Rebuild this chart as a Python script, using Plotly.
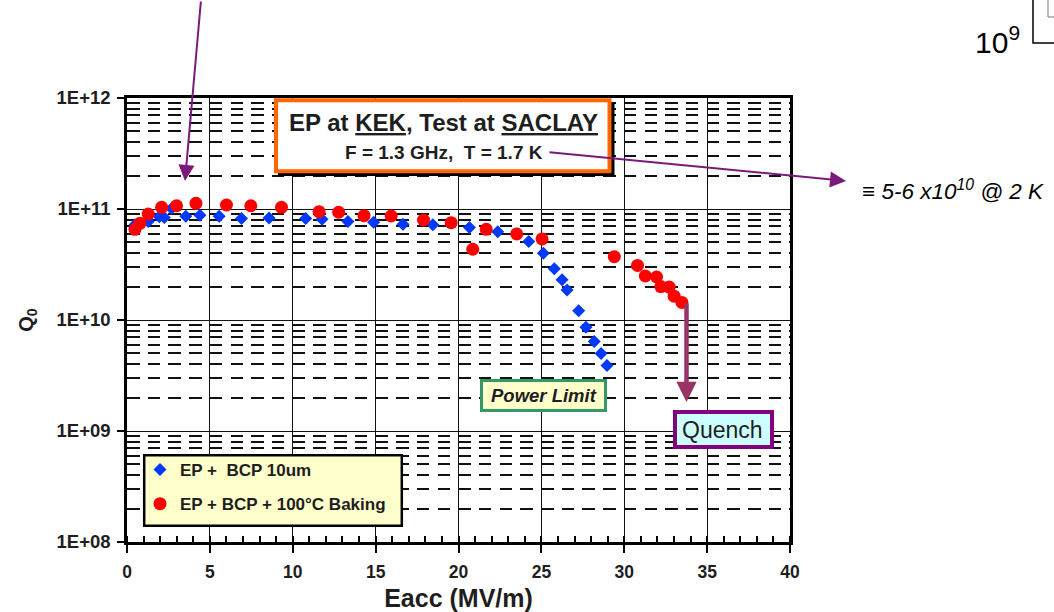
import plotly.graph_objects as go

# ---------------- data ----------------
blue_name = "EP +  BCP 10um"
blue_x = [0.48, 1.28, 1.95, 2.25, 2.69, 3.55, 4.40, 5.56, 6.91, 8.57, 10.78, 11.77, 13.33,
          14.88, 16.65, 18.45, 20.66, 22.37, 24.24, 25.12, 25.78, 26.25, 26.55, 27.25,
          27.69, 28.19, 28.60, 28.96]
blue_q = [7.2e10, 7.7e10, 8.5e10, 8.4e10, 1.01e11, 8.6e10, 8.8e10, 8.6e10, 8.2e10, 8.3e10,
          8.2e10, 8.1e10, 7.7e10, 7.6e10, 7.3e10, 7.2e10, 6.8e10, 6.25e10, 5.1e10, 4.0e10,
          2.9e10, 2.3e10, 1.86e10, 1.21e10, 8.6e9, 6.4e9, 5.0e9, 3.9e9]

red_name = "EP + BCP + 100°C Baking"
red_x = [0.48, 0.78, 1.28, 2.09, 2.99, 4.16, 6.00, 7.47, 9.32, 11.59, 12.77, 14.30, 15.94,
         17.89, 19.56, 20.86, 21.67, 23.51, 25.04, 29.40, 30.80, 31.27, 31.95, 32.21,
         32.71, 33.01, 33.48]
red_q = [6.56e10, 7.43e10, 9.0e10, 1.035e11, 1.07e11, 1.125e11, 1.087e11, 1.07e11, 1.035e11,
         9.46e10, 9.35e10, 8.7e10, 8.65e10, 7.96e10, 7.53e10, 4.34e10, 6.56e10, 5.96e10,
         5.37e10, 3.72e10, 3.1e10, 2.49e10, 2.44e10, 2.0e10, 1.98e10, 1.64e10, 1.44e10]

y_tickvals = [1e8, 1e9, 1e10, 1e11, 1e12]
y_ticktext = ["1E+08", "1E+09", "1E+10", "1E+11", "1E+12"]
x_tickvals = [0, 5, 10, 15, 20, 25, 30, 35, 40]

# ---------------- layout helpers ----------------
FIG_W, FIG_H = 1054, 612
L, T, R, B = 127, 98, 790, 542
PW, PH = R - L, B - T
FONT = "Liberation Sans, Arial, sans-serif"
TXT = "#1e1e1e"


def px(x):
    return (x - L) / PW


def py(y):
    return 1 - (y - T) / PH


def rect(x0, y0, x1, y1, fill, line_color=None, line_w=0):
    return dict(type="rect", xref="paper", yref="paper", layer="above",
                x0=px(x0), x1=px(x1), y0=py(y0), y1=py(y1),
                fillcolor=fill,
                line=dict(color=line_color or fill, width=line_w))


def path(points, color, width):
    d = "M " + " L ".join(f"{px(a):.5f},{py(b):.5f}" for a, b in points)
    return dict(type="path", xref="paper", yref="paper", layer="above", path=d,
                line=dict(color=color, width=width))


minor_y = [m * 10 ** e for e in range(8, 12) for m in range(2, 10)]

fig = go.Figure()
fig.add_trace(go.Scatter(x=blue_x, y=blue_q, mode="markers", name=blue_name,
                         legendgroup="a",
                         marker=dict(symbol="diamond", size=10, color="#0038FF")))
fig.add_trace(go.Scatter(x=red_x, y=red_q, mode="markers", name=red_name,
                         legendgroup="b",
                         marker=dict(symbol="circle", size=13, color="#FF0000")))

shapes = [
    # title box with shadow
    rect(278, 103, 614.5, 176, "black"),
    rect(276, 100.3, 609.5, 171.2, "white", "#FF6600", 4),
    # power limit
    rect(481.5, 380.5, 605.5, 410.5, "#FFFFCC", "#339966", 3),
    # quench
    rect(675, 412, 772, 447, "#CCFFFF", "#800080", 4),
    # legend box
    rect(144.2, 455.2, 401.8, 525.8, "#FFFFCC", "black", 2.5),
    # top-right axis fragment
    path([(1033, -2), (1033, 43), (1056, 43)], "black", 1.5),
    path([(1048, -2), (1048, 17), (1056, 17)], "#777777", 1),
]

annotations = [
    dict(text="EP at <u>KEK</u>, Test at <u>SACLAY</u>", x=px(443), y=py(122),
         font=dict(family=FONT, size=24, color=TXT, weight="bold")),
    dict(text="F = 1.3 GHz,  T = 1.7 K", x=px(444), y=py(152),
         font=dict(family=FONT, size=19, color=TXT, weight="bold")),
    dict(text="<i>Power Limit</i>", x=px(543.5), y=py(395.5),
         font=dict(family=FONT, size=18.5, color=TXT, weight="bold")),
    dict(text="Quench", x=px(722), y=py(429.5),
         font=dict(family=FONT, size=23, color=TXT)),
    dict(text="<i>≡ 5-6 x10<sup>10</sup> @ 2 K</i>", x=px(860), y=py(190), xanchor="left",
         font=dict(family=FONT, size=22.5, color="black")),
    dict(text="10<sup>9</sup>", x=px(1022), y=py(40), xanchor="right",
         font=dict(family=FONT, size=30, color="black")),
    # arrows
    dict(text="", x=px(185), y=py(181), ax=16, ay=-183, showarrow=True,
         arrowcolor="#7B1A7B", arrowwidth=2, arrowhead=2, arrowsize=1.6, standoff=0),
    dict(text="", x=px(846), y=py(181), ax=-298, ay=-29, showarrow=True,
         arrowcolor="#7B1A7B", arrowwidth=2, arrowhead=2, arrowsize=1.6, standoff=0),
    dict(text="", x=px(686.5), y=py(402), ax=0, ay=-100, showarrow=True,
         arrowcolor="#993366", arrowwidth=4.5, arrowhead=2, arrowsize=0.9, standoff=0),
]
for a in annotations:
    a.setdefault("xref", "paper")
    a.setdefault("yref", "paper")
    a.setdefault("showarrow", False)
    a.setdefault("xanchor", "center")
    a.setdefault("yanchor", "middle")

fig.update_layout(
    template="none",
    width=FIG_W, height=FIG_H,
    margin=dict(l=L, r=FIG_W - R, t=T, b=FIG_H - B, pad=0),
    paper_bgcolor="white", plot_bgcolor="white",
    shapes=shapes, annotations=annotations,
    showlegend=True,
    legend=dict(x=px(140), y=py(452), xanchor="left", yanchor="top",
                bgcolor="rgba(0,0,0,0)", borderwidth=0,
                traceorder="grouped", tracegroupgap=9,
                font=dict(family=FONT, size=17, color=TXT, weight="bold")),
    xaxis=dict(range=[0, 40], tickvals=x_tickvals, automargin=False,
               showline=True, linecolor="black", linewidth=2.5, mirror=True,
               ticks="outside", ticklen=8, tickwidth=2, tickcolor="black",
               ticklabelstandoff=4,
               showgrid=True, gridcolor="#111111", gridwidth=1.4, zeroline=False,
               minor=dict(dtick=1, ticks="inside", ticklen=6, tickwidth=1.5,
                          tickcolor="black", showgrid=False),
               tickfont=dict(family=FONT, size=17.5, color=TXT, weight="bold"),
               title=dict(text="Eacc (MV/m)", standoff=13,
                          font=dict(family=FONT, size=25, color=TXT, weight="bold"))),
    yaxis=dict(type="log", range=[8, 12], tickvals=y_tickvals, ticktext=y_ticktext,
               automargin=False,
               showline=True, linecolor="black", linewidth=2.5, mirror=True,
               ticks="outside", ticklen=7, tickwidth=1.5, tickcolor="black",
               ticklabelstandoff=3,
               showgrid=True, gridcolor="#111111", gridwidth=1.4, zeroline=False,
               minor=dict(tickvals=minor_y, ticks="", showgrid=True,
                          gridcolor="#111111", gridwidth=1.6, griddash="12.5px,8.2px"),
               tickfont=dict(family=FONT, size=18.5, color=TXT, weight="bold"),
               title=dict(text="Q<sub>0</sub>", standoff=18,
                          font=dict(family=FONT, size=20, color=TXT, weight="bold"))),
)

fig.write_html("out.html")
